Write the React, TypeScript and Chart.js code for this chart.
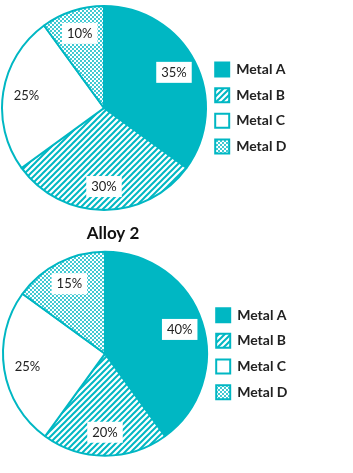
import React, { useEffect, useRef } from "react";
import { Chart, registerables } from "chart.js";

Chart.register(...registerables);

const categories = ["Metal A", "Metal B", "Metal C", "Metal D"];
const alloy1Values = [35, 30, 25, 10];
const alloy2Values = [40, 20, 25, 15];
const alloy2Title = "Alloy 2";

const TEAL = "#00B7C3";
const TEXT = "#222222";
const FONT = "Lato, 'Open Sans', sans-serif";

function makeStripe(): CanvasPattern | string {
  const c = document.createElement("canvas");
  c.width = 6;
  c.height = 6;
  const x = c.getContext("2d");
  if (!x) return TEAL;
  x.fillStyle = "#ffffff";
  x.fillRect(0, 0, 6, 6);
  x.strokeStyle = TEAL;
  x.lineWidth = 2;
  x.beginPath();
  x.moveTo(0, 6);
  x.lineTo(6, 0);
  x.moveTo(-3, 3);
  x.lineTo(3, -3);
  x.moveTo(3, 9);
  x.lineTo(9, 3);
  x.stroke();
  return x.createPattern(c, "repeat") || TEAL;
}

function makeDots(): CanvasPattern | string {
  const c = document.createElement("canvas");
  c.width = 4;
  c.height = 4;
  const x = c.getContext("2d");
  if (!x) return TEAL;
  x.fillStyle = "#ffffff";
  x.fillRect(0, 0, 4, 4);
  x.fillStyle = TEAL;
  x.beginPath();
  x.arc(1, 1, 1.0, 0, Math.PI * 2);
  x.arc(3, 3, 1.0, 0, Math.PI * 2);
  x.fill();
  return x.createPattern(c, "repeat") || TEAL;
}

const sliceLabels = {
  id: "sliceLabels",
  afterDatasetsDraw(chart: any) {
    const ctx = chart.ctx;
    const meta = chart.getDatasetMeta(0);
    const data = chart.data.datasets[0].data;
    ctx.save();
    ctx.font = `13px ${FONT}`;
    ctx.textAlign = "center";
    ctx.textBaseline = "middle";
    meta.data.forEach((arc: any, i: number) => {
      const p = arc.getProps(["x", "y", "startAngle", "endAngle", "outerRadius"], true);
      const mid = (p.startAngle + p.endAngle) / 2;
      const r = p.outerRadius * 0.77;
      const lx = p.x + Math.cos(mid) * r;
      const ly = p.y + Math.sin(mid) * r;
      const text = `${data[i]}%`;
      const w = ctx.measureText(text).width + 10;
      const h = 21;
      ctx.fillStyle = "#ffffff";
      ctx.fillRect(lx - w / 2, ly - h / 2, w, h);
      ctx.fillStyle = TEXT;
      ctx.fillText(text, lx, ly + 0.5);
    });
    ctx.restore();
  },
};

const layoutTweaks = {
  id: "layoutTweaks",
  beforeLayout(chart: any, _args: any, opts: any) {
    const lg = chart.legend;
    if (lg && !lg.__patched) {
      const orig = lg.fit.bind(lg);
      lg.fit = function () {
        orig();
        this.width = opts.legendWidth;
      };
      lg.__patched = true;
    }
  },
  afterLayout(chart: any, _args: any, opts: any) {
    const t = chart.titleBlock;
    if (t && opts.titleShift) {
      t.left += opts.titleShift;
      t.right += opts.titleShift;
    }
    const lg = chart.legend;
    if (lg && opts.legendShift) {
      lg.left += opts.legendShift;
      lg.right += opts.legendShift;
    }
  },
};

type PieProps = {
  values: number[];
  title?: string;
  top: number;
  height: number;
  legendW: number;
  titleShift?: number;
  padding: { left: number; right: number; top: number; bottom: number };
};

function AlloyPie({ values, title, top, height, legendW, titleShift, padding }: PieProps) {
  const ref = useRef<HTMLCanvasElement | null>(null);
  useEffect(() => {
    if (!ref.current) return;
    const fills = [TEAL, makeStripe(), "#ffffff", makeDots()];
    const chart = new Chart(ref.current, {
      type: "pie",
      data: {
        labels: categories,
        datasets: [
          {
            data: values,
            backgroundColor: fills as any,
            borderColor: TEAL,
            borderWidth: 2,
          },
        ],
      },
      options: {
        responsive: false,
        animation: false,
        devicePixelRatio: 1,
        layout: { padding },
        plugins: {
          tooltip: { enabled: false },
          title: {
            display: !!title,
            text: title || "",
            fullSize: false,
            color: "#111111",
            font: { family: FONT, size: 17, weight: "bold" },
            padding: { top: 0, bottom: 4 },
          },
          legend: {
            position: "right",
            fullSize: false,
            labels: {
              boxWidth: 14,
              boxHeight: 14,
              padding: 11.7,
              color: TEXT,
              font: { family: FONT, size: 14, weight: "bold" },
            },
          },
          layoutTweaks: {
            legendWidth: legendW,
            titleShift: titleShift || 0,
            legendShift: -3.5,
          },
        } as any,
      },
      plugins: [sliceLabels, layoutTweaks],
    });
    return () => chart.destroy();
  }, []);
  return (
    <canvas
      ref={ref}
      width={353}
      height={height}
      style={{ position: "absolute", left: 0, top, width: 353, height }}
    />
  );
}

export default function App() {
  return (
    <div
      style={{
        position: "fixed",
        left: 0,
        top: 0,
        width: 353,
        height: 473,
        background: "#ffffff",
        overflow: "hidden",
      }}
    >
      <AlloyPie
        values={alloy1Values}
        top={0}
        height={216}
        legendW={146}
        padding={{ left: 1, right: 0, top: 0, bottom: 0 }}
      />
      <AlloyPie
        values={alloy2Values}
        title={alloy2Title}
        top={223}
        height={250}
        legendW={145}
        titleShift={8}
        padding={{ left: 2, right: 0, top: 0, bottom: 13 }}
      />
    </div>
  );
}
